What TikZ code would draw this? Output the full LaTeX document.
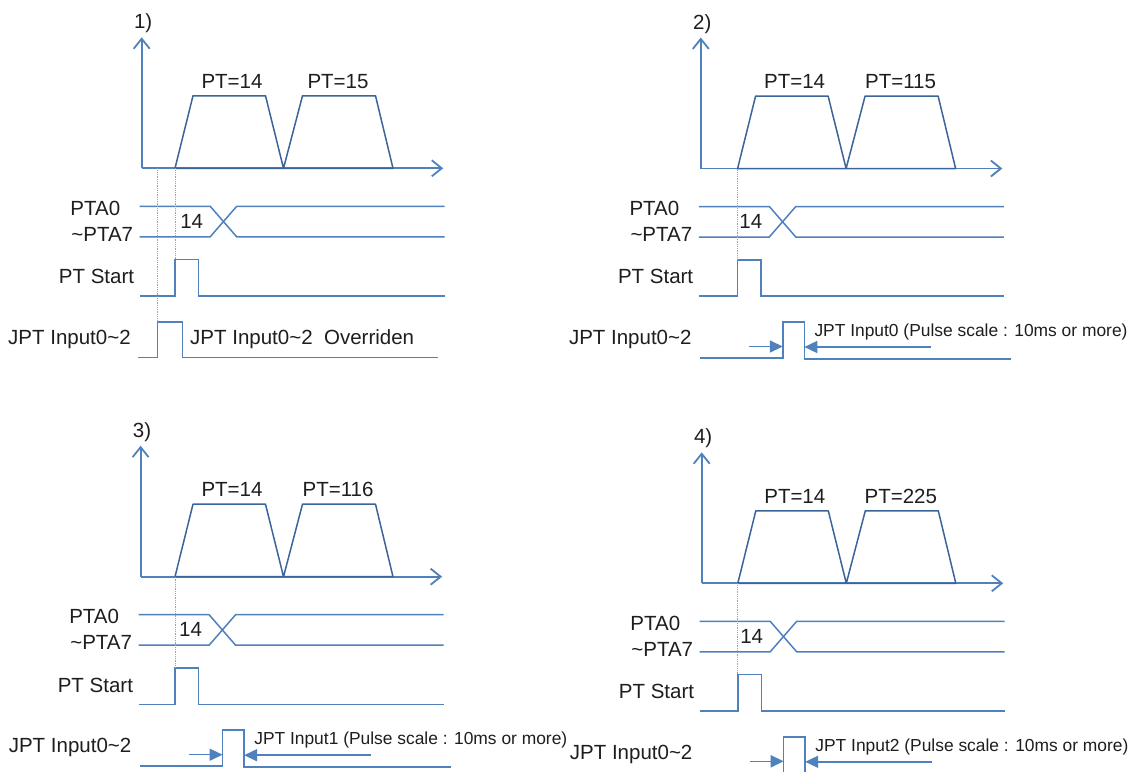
\documentclass[tikz,border=0pt]{standalone}
\usepackage{fontspec}
\setmainfont{Liberation Sans}
\usetikzlibrary{arrows.meta}
\definecolor{wave}{HTML}{4F81BD}
\definecolor{ramp}{HTML}{3B6598}
\definecolor{ink}{HTML}{1E1E1E}
\tikzset{
  axis/.style={wave, line width=1.8pt, -{Straight Barb[length=10pt,width=16pt]}},
  sig/.style={wave, line width=1.5pt},
  slope/.style={ramp, line width=1.5pt, line join=round},
  guide/.style={wave!70, line width=0.8pt, densely dotted},
  pin/.style={wave, line width=1.5pt, -{Triangle[length=13pt,width=12pt]}},
  lbl/.style={ink, inner sep=0pt, font=\fontsize{20.5}{24}\selectfont},
  note/.style={ink, inner sep=0pt, font=\fontsize{17.4}{20}\selectfont},
}
\begin{document}
\begin{tikzpicture}[x=1pt,y=-1pt]
\useasboundingbox (0,0) rectangle (1137,771);
\clip (0,0) rectangle (1137,771);
\fill[white] (0,0) rectangle (1137,771);
\foreach \px/\py/\s/\n/\pt in {141.7/168.3/33.3/1/15, 700.8/168.5/36.8/2/115,
                               140.6/576.7/34.4/3/116, 701.7/583.3/36.1/4/225}{
\begin{scope}[shift={(\px,\py)}]
  \coordinate (o\n) at (0,0);
  \coordinate (top\n) at (0,-131);
  \coordinate (end\n) at (301.5,0);
  \node[lbl, anchor=base] (num\n) at (1.5,-139.5) {\n)};
  \draw[axis] (o\n) -- (top\n);
  \draw[axis] (o\n) -- (end\n);
  \draw[slope] (\s,0) -- ++(18,-72.5) -- ++(72.5,0) -- ++(18,72.5) -- ++(19,-72.5)
    -- ++(73,0) -- ++(17.5,72.5) -- cycle;
  \node[lbl, anchor=base] (pa\n) at ({\s+57},-80) {PT=14};
  \node[lbl, anchor=base] (pb\n) at ({\s+163},-80) {PT=\pt};
  \draw[sig] (-2,38) -- (68.5,38) -- (95,68.5) -- (303,68.5);
  \draw[sig] (-2,68.5) -- (68.5,68.5) -- (95,38) -- (303,38);
  \node[lbl, anchor=base west] (pta\n) at (-71.5,47) {PTA0};
  \node[lbl, anchor=base west] (ptb\n) at (-70.5,73) {\textasciitilde PTA7};
  \node[lbl, anchor=base] (d\n) at (50,60) {14};
  \draw[sig] (-2,127.7) -- (\s,127.7) -- (\s,91.3) -- ++(23.5,0) -- ++(0,36.4) -- (303,127.7);
  \node[lbl, anchor=base west] (st\n) at (-83,115.4) {PT Start};
  \draw[guide] (\s,0) -- (\s,91.3);
\end{scope}
}
\draw[sig] (138,357.7) -- (157.7,357.7) -- (157.7,322) -- (182.7,322) -- (182.7,357.7) -- (437.7,357.7);
\draw[guide] (157.7,168.3) -- (157.7,322);
\node[lbl, anchor=base west] (jinA) at (8,344.1) {JPT Input0\textasciitilde 2};
\node[lbl, anchor=base west] (ovr) at (190,344.1) {JPT Input0\textasciitilde 2\ \ Overriden};
\foreach \px/\py/\k in {700.8/168.5/0, 140.6/576.7/1, 701.7/583.3/2}{
\begin{scope}[shift={(\px,\py)}]
  \draw[sig] (-1,189.3) -- (82,189.3) -- (82,153.5) -- (103.5,153.5) -- (103.5,190.5) -- (310,190.5);
  \coordinate (ra\k) at (48,178);
  \coordinate (rb\k) at (82,178);
  \coordinate (fa\k) at (230,178.5);
  \coordinate (fb\k) at (103.5,178.5);
  \draw[pin] (ra\k) -- (rb\k);
  \draw[pin] (fa\k) -- (fb\k);
  \node[note, anchor=base west] (msg\k) at (113.5,167.8) {JPT Input\k\ (Pulse scale : 10ms or more)};
  \node[lbl, anchor=base west] (jin\k) at (-132,175.8) {JPT Input0\textasciitilde 2};
\end{scope}
}
\end{tikzpicture}
\end{document}
